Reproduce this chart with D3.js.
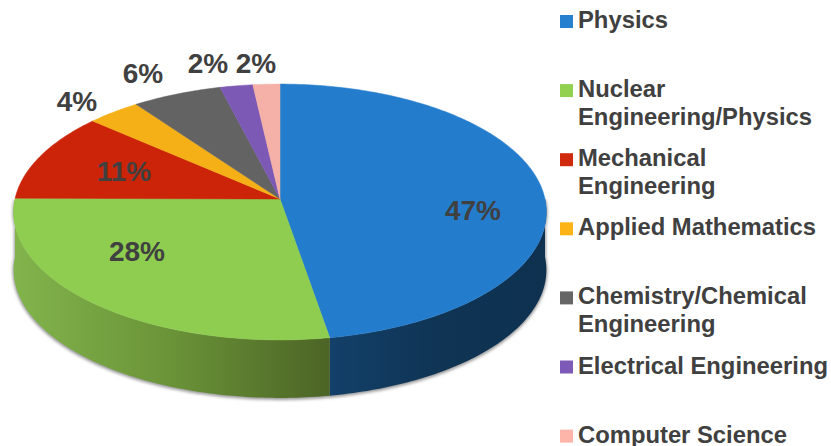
<!DOCTYPE html>
<html>
<head>
<meta charset="utf-8">
<script src="https://cdn.jsdelivr.net/npm/d3@7"></script>
<style>
  body { margin: 0; background: #fff; }
  svg { display: block; }
  text { font-family: "Liberation Sans", Arial, sans-serif; font-weight: bold; fill: #404040; }
</style>
</head>
<body>
<div id="chart"></div>
<script>
//data; labels round them
const categories = ["Physics", "Nuclear Engineering/Physics", "Mechanical Engineering", "Applied Mathematics", "Chemistry/Chemical Engineering", "Electrical Engineering", "Computer Science"];
const shares = [47.3, 27.8, 11.3, 3.6, 6.0, 2.2, 1.8];

//legend text is broken by hand, same as the picture
const legendLines = [["Physics"], ["Nuclear", "Engineering/Physics"], ["Mechanical", "Engineering"], ["Applied Mathematics"], ["Chemistry/Chemical", "Engineering"], ["Electrical Engineering"], ["Computer Science"]];

//styles
const topColors = ["#247dcc", "#8ecd4f", "#cb2408", "#f4b016", "#636363", "#7c59b5", "#f5b0a7"];
const keyColors = ["#2680d0", "#92d050", "#d02a0e", "#fbb316", "#666666", "#7e5ab8", "#fdb5aa"];
const sideStops = { 0: ["#134069", "#0f3454", "#0e3150"], 1: ["#82b44c", "#6a9338", "#4c6425"] };

//svg size
const width = 831;
const height = 446;

//pie apex and perspective
const apexX = 280;
const apexY = 199;
const radiusX = 265;
const radiusY = 126.6;
const tilt = -0.1016;
const depth = 58;

//label centres, baselines
const labelPos = [[473, 220], [137, 261], [124, 181], [77, 111], [143, 83], [208, 73], [256, 73]];

//legend layout
const legendX = 560;
const legendTop = 15;
const legendStep = 69.1;
const keySize = 13;
const lineHeight = 28;

function project(angle, r = 1) {
  const u = Math.sin(angle) * r;
  const v = -Math.cos(angle) * r;
  const w = 1 + tilt * v;
  return [apexX + (radiusX * u) / w, apexY + (radiusY * v) / w];
}

function rim(a0, a1) {
  const n = Math.max(2, Math.ceil((a1 - a0) * 60));
  return d3.range(n + 1).map((i) => project(a0 + ((a1 - a0) * i) / n));
}

const svg = d3.select("#chart").append("svg").attr("width", width).attr("height", height);
const defs = svg.append("defs");

defs.append("filter")
    .attr("id", "soft")
    .attr("x", "-5%").attr("y", "-5%").attr("width", "110%").attr("height", "110%")
    .append("feGaussianBlur")
    .attr("stdDeviation", 1.6);

const arcs = d3.pie().sort(null).value((d) => d)(shares);
const line = d3.line();

//front wall, only the near half of the rim shows
//0.001 because the slice sums can land a hair off 3/2 pi
const front = arcs
    .map((d, i) => ({
      i,
      a0: Math.max(d.startAngle, Math.PI / 2),
      a1: Math.min(d.endAngle, (3 * Math.PI) / 2),
    }))
    .filter((d) => d.a1 - d.a0 > 0.001);

front.forEach((d) => {
  const top = rim(d.a0, d.a1);
  const bottom = top.map(([x, y]) => [x, y + depth]).reverse();
  d.path = line(top.concat(bottom)) + "Z";
  const xs = top.map((p) => p[0]);
  const grad = defs.append("linearGradient")
      .attr("id", `side${d.i}`)
      .attr("gradientUnits", "userSpaceOnUse")
      .attr("x1", d3.min(xs))
      .attr("x2", d3.max(xs))
      .attr("y1", 0)
      .attr("y2", 0);
  const stops = sideStops[d.i];
  grad.selectAll("stop")
      .data(stops)
      .join("stop")
      .attr("offset", (s, k) => k / (stops.length - 1))
      .attr("stop-color", (s) => s);
});

svg.append("g")
    .attr("filter", "url(#soft)")
    .selectAll("path")
    .data(front)
    .join("path")
    .attr("d", (d) => d.path)
    .attr("transform", "translate(0,1)")
    .attr("fill", "#9a9a9a")
    .attr("stroke", "#9a9a9a")
    .attr("stroke-width", 2);

svg.append("g")
    .selectAll("path")
    .data(front)
    .join("path")
    .attr("d", (d) => d.path)
    .attr("fill", (d) => `url(#side${d.i})`);

//top face
svg.append("g")
    .selectAll("path")
    .data(arcs)
    .join("path")
    .attr("d", (d) => line([[apexX, apexY]].concat(rim(d.startAngle, d.endAngle))) + "Z")
    .attr("fill", (d, i) => topColors[i])
    .attr("stroke", (d, i) => topColors[i])
    .attr("stroke-width", 0.5);

//value labels
svg.append("g")
    .selectAll("text")
    .data(shares)
    .join("text")
    .attr("x", (d, i) => labelPos[i][0])
    .attr("y", (d, i) => labelPos[i][1])
    .attr("text-anchor", "middle")
    .attr("font-size", 28)
    .text((d) => d3.format(".0f")(d) + "%");

//legend
const keyScale = d3.scaleBand().domain(categories).range([legendTop, legendTop + legendStep * categories.length]);

const legend = svg.append("g")
    .selectAll("g")
    .data(categories)
    .join("g")
    .attr("transform", (d) => `translate(${legendX},${keyScale(d)})`);

legend.append("rect")
    .attr("width", keySize)
    .attr("height", keySize)
    .attr("fill", (d, i) => keyColors[i]);

legend.append("text")
    .attr("font-size", 23.8)
    .selectAll("tspan")
    .data((d, i) => legendLines[i])
    .join("tspan")
    .attr("x", 18)
    .attr("y", (d, i) => keySize + i * lineHeight)
    .text((d) => d);
</script>
</body>
</html>
